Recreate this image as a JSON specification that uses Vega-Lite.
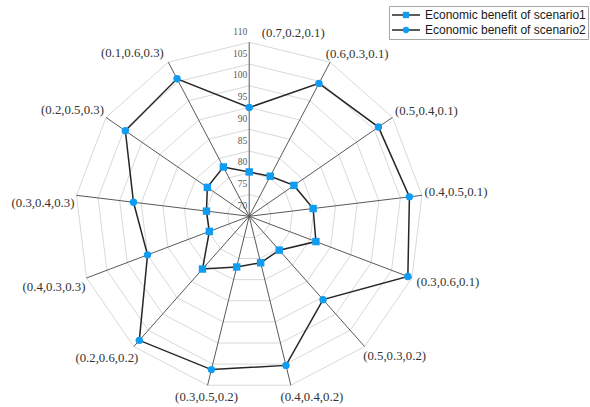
{
  "$schema": "https://vega.github.io/schema/vega-lite/v6.json",
  "width": 590,
  "height": 407,
  "padding": 0,
  "autosize": {"type": "none"},
  "background": "white",
  "config": {
    "view": {"stroke": null},
    "text": {"font": "Liberation Serif", "fontSize": 12.8, "color": "#333333", "align": "center", "baseline": "middle"}
  },
  "datasets": {
    "main": [
      {"cat": "(0.7,0.2,0.1)", "idx": 0, "Economic benefit of scenario1": 80.2, "Economic benefit of scenario2": 95.0},
      {"cat": "(0.6,0.3,0.1)", "idx": 1, "Economic benefit of scenario1": 80.4, "Economic benefit of scenario2": 104.5},
      {"cat": "(0.5,0.4,0.1)", "idx": 2, "Economic benefit of scenario1": 82.5, "Economic benefit of scenario2": 106.1},
      {"cat": "(0.4,0.5,0.1)", "idx": 3, "Economic benefit of scenario1": 84.8, "Economic benefit of scenario2": 107.1},
      {"cat": "(0.3,0.6,0.1)", "idx": 4, "Economic benefit of scenario1": 86.4, "Economic benefit of scenario2": 109.0},
      {"cat": "(0.5,0.3,0.2)", "idx": 5, "Economic benefit of scenario1": 80.4, "Economic benefit of scenario2": 95.6},
      {"cat": "(0.4,0.4,0.2)", "idx": 6, "Economic benefit of scenario1": 81.0, "Economic benefit of scenario2": 105.3},
      {"cat": "(0.3,0.5,0.2)", "idx": 7, "Economic benefit of scenario1": 82.0, "Economic benefit of scenario2": 106.3},
      {"cat": "(0.2,0.6,0.2)", "idx": 8, "Economic benefit of scenario1": 86.2, "Economic benefit of scenario2": 108.1},
      {"cat": "(0.4,0.3,0.3)", "idx": 9, "Economic benefit of scenario1": 79.8, "Economic benefit of scenario2": 95.0},
      {"cat": "(0.3,0.4,0.3)", "idx": 10, "Economic benefit of scenario1": 79.9, "Economic benefit of scenario2": 96.8},
      {"cat": "(0.2,0.5,0.3)", "idx": 11, "Economic benefit of scenario1": 81.7, "Economic benefit of scenario2": 104.6},
      {"cat": "(0.1,0.6,0.3)", "idx": 12, "Economic benefit of scenario1": 82.8, "Economic benefit of scenario2": 105.7}
    ],
    "ticks": [
      {"v": 70}, {"v": 75}, {"v": 80}, {"v": 85}, {"v": 90}, {"v": 95}, {"v": 100}, {"v": 105}, {"v": 110}
    ]
  },
  "layer": [
    {
      "data": {"name": "main"},
      "transform": [
        {"calculate": "[75,80,85,90,95,100,105,110]", "as": "lv"},
        {"flatten": ["lv"]},
        {"calculate": "datum.idx * 2 * PI / 13", "as": "a"},
        {"calculate": "(datum.lv - 70) * sin(datum.a)", "as": "rx"},
        {"calculate": "(datum.lv - 70) * cos(datum.a)", "as": "ry"}
      ],
      "mark": {"type": "line", "interpolate": "linear-closed", "stroke": "#d9d9d9", "strokeWidth": 1},
      "encoding": {
        "x": {"field": "rx", "type": "quantitative", "scale": {"domain": [-57.29, 78.34], "nice": false, "zero": false}, "axis": null},
        "y": {"field": "ry", "type": "quantitative", "scale": {"domain": [-43.84, 49.72], "nice": false, "zero": false}, "axis": null},
        "detail": {"field": "lv", "type": "nominal"},
        "order": {"field": "idx", "type": "quantitative"}
      }
    },
    {
      "data": {"name": "main"},
      "transform": [
        {"calculate": "datum.idx * 2 * PI / 13", "as": "a"},
        {"calculate": "0", "as": "z"},
        {"calculate": "40 * sin(datum.a)", "as": "ex"},
        {"calculate": "40 * cos(datum.a)", "as": "ey"}
      ],
      "mark": {"type": "rule", "stroke": "#595959", "strokeWidth": 1},
      "encoding": {
        "x": {"field": "z", "type": "quantitative", "scale": {"domain": [-57.29, 78.34], "nice": false, "zero": false}, "axis": null},
        "y": {"field": "z", "type": "quantitative", "scale": {"domain": [-43.84, 49.72], "nice": false, "zero": false}, "axis": null},
        "x2": {"field": "ex"},
        "y2": {"field": "ey"}
      }
    },
    {
      "data": {"name": "ticks"},
      "transform": [{"calculate": "datum.v - 70", "as": "ty"}, {"calculate": "0", "as": "z"}],
      "mark": {"type": "text", "align": "right", "baseline": "middle", "dx": -2, "dy": -10.5, "font": "Liberation Serif", "fontSize": 9.5, "color": "#595959"},
      "encoding": {
        "x": {"field": "z", "type": "quantitative", "scale": {"domain": [-57.29, 78.34], "nice": false, "zero": false}, "axis": null},
        "y": {"field": "ty", "type": "quantitative", "scale": {"domain": [-43.84, 49.72], "nice": false, "zero": false}, "axis": null},
        "text": {"field": "v", "type": "quantitative"}
      }
    },
    {
      "data": {"name": "main"},
      "transform": [
        {"calculate": "datum.idx * 2 * PI / 13", "as": "a"},
        {"calculate": "40 * sin(datum.a)", "as": "ex"},
        {"calculate": "40 * cos(datum.a)", "as": "ey"}
      ],
      "encoding": {
        "x": {"field": "ex", "type": "quantitative", "scale": {"domain": [-57.29, 78.34], "nice": false, "zero": false}, "axis": null},
        "y": {"field": "ey", "type": "quantitative", "scale": {"domain": [-43.84, 49.72], "nice": false, "zero": false}, "axis": null},
        "text": {"field": "cat", "type": "nominal"}
      },
      "layer": [
        {"transform": [{"filter": "datum.idx == 0"}], "mark": {"type": "text", "dx": 44, "dy": -9}},
        {"transform": [{"filter": "datum.idx == 1"}], "mark": {"type": "text", "dx": 27, "dy": -8}},
        {"transform": [{"filter": "datum.idx == 2"}], "mark": {"type": "text", "dx": 34, "dy": -6.5}},
        {"transform": [{"filter": "datum.idx == 3"}], "mark": {"type": "text", "dx": 34, "dy": -3.5}},
        {"transform": [{"filter": "datum.idx == 4"}], "mark": {"type": "text", "dx": 36, "dy": 4}},
        {"transform": [{"filter": "datum.idx == 5"}], "mark": {"type": "text", "dx": 30, "dy": 9}},
        {"transform": [{"filter": "datum.idx == 6"}], "mark": {"type": "text", "dx": 21, "dy": 11.5}},
        {"transform": [{"filter": "datum.idx == 7"}], "mark": {"type": "text", "dx": -1, "dy": 11.5}},
        {"transform": [{"filter": "datum.idx == 8"}], "mark": {"type": "text", "dx": -27, "dy": 11.5}},
        {"transform": [{"filter": "datum.idx == 9"}], "mark": {"type": "text", "dx": -32.5, "dy": 9.5}},
        {"transform": [{"filter": "datum.idx == 10"}], "mark": {"type": "text", "dx": -33.5, "dy": 8}},
        {"transform": [{"filter": "datum.idx == 11"}], "mark": {"type": "text", "dx": -33.5, "dy": -7.5}},
        {"transform": [{"filter": "datum.idx == 12"}], "mark": {"type": "text", "dx": -36, "dy": -9}}
      ]
    },
    {
      "data": {"name": "main"},
      "transform": [
        {"fold": ["Economic benefit of scenario1", "Economic benefit of scenario2"], "as": ["series", "value"]},
        {"calculate": "datum.idx * 2 * PI / 13", "as": "a"},
        {"calculate": "(datum.value - 70) * sin(datum.a)", "as": "px"},
        {"calculate": "(datum.value - 70) * cos(datum.a)", "as": "py"}
      ],
      "mark": {"type": "line", "interpolate": "linear-closed", "strokeWidth": 1.5},
      "encoding": {
        "x": {"field": "px", "type": "quantitative", "scale": {"domain": [-57.29, 78.34], "nice": false, "zero": false}, "axis": null},
        "y": {"field": "py", "type": "quantitative", "scale": {"domain": [-43.84, 49.72], "nice": false, "zero": false}, "axis": null},
        "stroke": {
          "field": "series", "type": "nominal",
          "scale": {"range": ["#262626", "#262626"]},
          "legend": {
            "title": null, "orient": "none", "legendX": 389, "legendY": 6,
            "symbolType": "M-1,0H1", "symbolSize": 784, "symbolStrokeWidth": 1.5,
            "labelFont": "Liberation Sans", "labelFontSize": 12, "labelColor": "#1a1a1a", "labelOffset": 4, "labelLimit": 400,
            "strokeColor": "#a6a6a6", "padding": 2, "rowPadding": 1, "clipHeight": 14
          }
        },
        "order": {"field": "idx", "type": "quantitative"}
      }
    },
    {
      "data": {"name": "main"},
      "transform": [
        {"fold": ["Economic benefit of scenario1", "Economic benefit of scenario2"], "as": ["series", "value"]},
        {"calculate": "datum.series", "as": "sname"},
        {"calculate": "datum.idx * 2 * PI / 13", "as": "a"},
        {"calculate": "(datum.value - 70) * sin(datum.a)", "as": "px"},
        {"calculate": "(datum.value - 70) * cos(datum.a)", "as": "py"}
      ],
      "mark": {"type": "point", "filled": true, "size": 55, "color": "#109cf0", "opacity": 1},
      "encoding": {
        "x": {"field": "px", "type": "quantitative", "scale": {"domain": [-57.29, 78.34], "nice": false, "zero": false}, "axis": null},
        "y": {"field": "py", "type": "quantitative", "scale": {"domain": [-43.84, 49.72], "nice": false, "zero": false}, "axis": null},
        "shape": {
          "field": "sname", "type": "nominal",
          "scale": {"range": ["square", "circle"]},
          "legend": {
            "title": null, "orient": "none", "legendX": 398, "legendY": 6,
            "symbolSize": 40, "symbolFillColor": "#109cf0", "symbolStrokeWidth": 0,
            "labelExpr": "''", "labelFontSize": 12,
            "padding": 2, "rowPadding": 1, "clipHeight": 14
          }
        }
      }
    }
  ]
}
